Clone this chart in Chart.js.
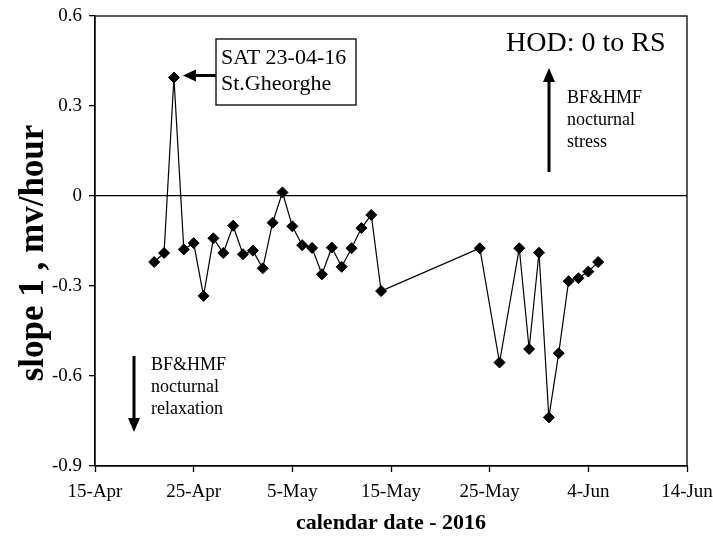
<!DOCTYPE html>
<html>
<head>
<meta charset="utf-8">
<script src="https://cdn.jsdelivr.net/npm/chart.js@4/dist/chart.umd.min.js"></script>
<style>
  html, body { margin: 0; padding: 0; background: #fff; }
</style>
</head>
<body>
<canvas id="myChart" width="713" height="537"></canvas>
<script>
// slope 1 per night, HOD 0 to RS
const dates = [
  "2016-04-21", "2016-04-22", "2016-04-23", "2016-04-24", "2016-04-25", "2016-04-26",
  "2016-04-27", "2016-04-28", "2016-04-29", "2016-04-30", "2016-05-01", "2016-05-02",
  "2016-05-03", "2016-05-04", "2016-05-05", "2016-05-06", "2016-05-07", "2016-05-08",
  "2016-05-09", "2016-05-10", "2016-05-11", "2016-05-12", "2016-05-13", "2016-05-14",
  "2016-05-24", "2016-05-26", "2016-05-28", "2016-05-29", "2016-05-30", "2016-05-31",
  "2016-06-01", "2016-06-02", "2016-06-03", "2016-06-04", "2016-06-05"
];
const slope1 = [
  -0.220, -0.190, 0.395, -0.178, -0.157, -0.333,
  -0.141, -0.190, -0.099, -0.194, -0.182, -0.241,
  -0.089, 0.012, -0.101, -0.164, -0.173, -0.261,
  -0.172, -0.236, -0.174, -0.107, -0.063, -0.317,
  -0.174, -0.555, -0.174, -0.510, -0.189, -0.738,
  -0.524, -0.284, -0.274, -0.252, -0.220
];
const xTickLabels = ["15-Apr", "25-Apr", "5-May", "15-May", "25-May", "4-Jun", "14-Jun"];
const yTicks = [0.6, 0.3, 0, -0.3, -0.6, -0.9];
const yTickLabels = ["0.6", "0.3", "0", "-0.3", "-0.6", "-0.9"];

const startDay = Date.UTC(2016, 3, 15);
const dayOf = (d) => (Date.parse(d) - startDay) / 86400000;
const points = dates.map((d, i) => ({ x: dayOf(d), y: slope1[i] }));

const serif = "'Liberation Serif', 'Times New Roman', serif";

function arrow(ctx, x1, y1, x2, y2, head, half) {
  const ang = Math.atan2(y2 - y1, x2 - x1);
  const bx = x2 - head * Math.cos(ang);
  const by = y2 - head * Math.sin(ang);
  ctx.lineWidth = 3;
  ctx.beginPath();
  ctx.moveTo(x1, y1);
  ctx.lineTo(bx, by);
  ctx.stroke();
  ctx.beginPath();
  ctx.moveTo(x2, y2);
  ctx.lineTo(bx + half * Math.sin(ang), by - half * Math.cos(ang));
  ctx.lineTo(bx - half * Math.sin(ang), by + half * Math.cos(ang));
  ctx.closePath();
  ctx.fill();
}

const notes = {
  id: "notes",
  afterDraw(chart) {
    const { ctx, chartArea: a, scales: { x, y } } = chart;
    ctx.save();
    ctx.strokeStyle = "#000";
    ctx.fillStyle = "#000";

    // frame
    ctx.lineWidth = 1.3;
    ctx.strokeRect(a.left, a.top, a.width, a.height);

    // y axis title
    ctx.save();
    ctx.translate(34, 253);
    ctx.rotate(-Math.PI / 2);
    ctx.font = "bold 35px " + serif;
    ctx.textAlign = "center";
    ctx.textBaseline = "middle";
    ctx.fillText("slope 1 , mv/hour", 0, 0);
    ctx.restore();

    // St.Gheorghe callout pointing at the 23-Apr value
    const i = dates.indexOf("2016-04-23");
    const px = x.getPixelForValue(dayOf(dates[i]));
    const py = y.getPixelForValue(slope1[i]);
    ctx.lineWidth = 1.3;
    ctx.strokeRect(216, 39, 140, 66);
    arrow(ctx, 216, py - 2, px + 9, py - 2, 13, 6);
    ctx.font = "22px " + serif;
    ctx.textAlign = "left";
    ctx.textBaseline = "middle";
    ctx.fillText("SAT 23-04-16", 221, 58);
    ctx.fillText("St.Gheorghe", 221, 84);

    // HOD range
    ctx.font = "28px " + serif;
    ctx.fillText("HOD: 0 to RS", 506, 44);

    // stress (up)
    arrow(ctx, 549, 172, 549, 68, 14, 6);
    ctx.font = "18px " + serif;
    ctx.fillText("BF&HMF", 567, 98);
    ctx.fillText("nocturnal", 567, 120);
    ctx.fillText("stress", 567, 142);

    // relaxation (down)
    arrow(ctx, 134, 356, 134, 432, 14, 6);
    ctx.fillText("BF&HMF", 151, 365);
    ctx.fillText("nocturnal", 151, 387);
    ctx.fillText("relaxation", 151, 409);

    ctx.restore();
  }
};

const ctx = document.getElementById("myChart");

new Chart(ctx, {
  type: "line",
  data: {
    datasets: [
      {
        label: "slope 1",
        data: points,
        borderColor: "#000",
        backgroundColor: "#000",
        borderWidth: 1.2,
        pointStyle: "rectRot",
        pointRadius: 5.5,
        pointBorderWidth: 1,
        pointBackgroundColor: "#000",
        pointBorderColor: "#000",
        tension: 0,
      },
    ],
  },
  options: {
    responsive: false,
    animation: false,
    devicePixelRatio: 1,
    layout: { padding: { top: 16, right: 26, left: 0, bottom: 0 } },
    plugins: {
      legend: { display: false },
      tooltip: { enabled: false },
    },
    scales: {
      x: {
        type: "linear",
        min: 0,
        max: 60,
        afterBuildTicks: (s) => { s.ticks = xTickLabels.map((_, k) => ({ value: k * 10 })); },
        afterFit: (s) => {
          s.height = 71;
          s.paddingLeft = 0;
          s.paddingRight = 0;
        },
        ticks: {
          callback: (v, k) => xTickLabels[k],
          font: { family: serif, size: 19 },
          color: "#000",
          padding: 9,
          maxRotation: 0,
          autoSkip: false,
        },
        grid: { drawOnChartArea: false, tickLength: 6, tickColor: "#000", tickWidth: 1.3 },
        border: { display: true, color: "#000", width: 1.3 },
        title: {
          display: true,
          text: "calendar date - 2016",
          font: { family: serif, size: 22, weight: "bold" },
          color: "#000",
          padding: { top: 0, bottom: 0 },
        },
      },
      y: {
        min: -0.9,
        max: 0.6,
        afterBuildTicks: (s) => { s.ticks = yTicks.map((v) => ({ value: v })); },
        afterFit: (s) => {
          s.width = 95;
          s.paddingTop = 0;
          s.paddingBottom = 0;
        },
        ticks: {
          callback: (v, k) => yTickLabels[k],
          font: { family: serif, size: 19 },
          color: "#000",
          padding: 7,
          autoSkip: false,
        },
        grid: {
          color: (c) => (c.tick && c.tick.value === 0 ? "#000" : "rgba(0,0,0,0)"),
          lineWidth: 1.3,
          tickLength: 6,
          tickColor: "#000",
          tickWidth: 1.3,
        },
        border: { display: true, color: "#000", width: 1.3 },
      },
    },
  },
  plugins: [notes],
});
</script>
</body>
</html>
